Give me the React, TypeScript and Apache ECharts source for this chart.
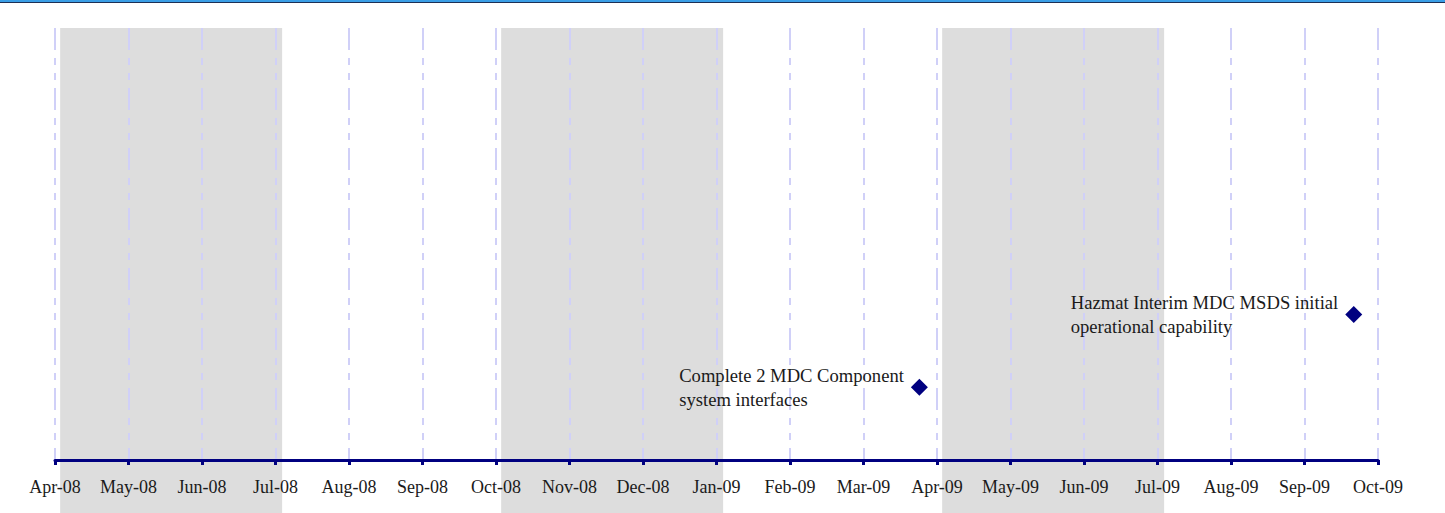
import React, { useEffect, useRef } from 'react';
import * as echarts from 'echarts';

const monthLabels = [
  'Apr-08', 'May-08', 'Jun-08', 'Jul-08', 'Aug-08', 'Sep-08', 'Oct-08', 'Nov-08', 'Dec-08',
  'Jan-09', 'Feb-09', 'Mar-09', 'Apr-09', 'May-09', 'Jun-09', 'Jul-09', 'Aug-09', 'Sep-09', 'Oct-09',
];

// shaded quarters (month index along the axis)
const bandStarts = [0.07, 6.07, 12.07];
const bandEnds = [3.09, 9.09, 15.09];

// milestones
const milestoneNames = [
  'Complete 2 MDC Component\nsystem interfaces',
  'Hazmat Interim MDC MSDS initial\noperational capability',
];
const milestoneMonths = [11.76, 17.67];
const milestoneHeights = [1.38, 2.76];

const Y_MAX = 8.2;
const FONT = 'Liberation Serif, Times New Roman, serif';
const NAVY = '#000080';

export default function App() {
  const ref = useRef<HTMLDivElement>(null);

  useEffect(() => {
    if (!ref.current) return;
    const chart = echarts.init(ref.current, null, { renderer: 'svg' });

    const xMax = monthLabels.length - 1;

    const gridLines = monthLabels.map((_, i) => [
      { coord: [i, Y_MAX] },
      { coord: [i, 0] },
    ]);

    const bands = bandStarts.map((s, i) => [{ xAxis: s }, { xAxis: bandEnds[i] }]);

    const points = milestoneNames.map((name, i) => ({
      name,
      value: [milestoneMonths[i], milestoneHeights[i]],
    }));

    chart.setOption({
      animation: false,
      backgroundColor: '#ffffff',
      grid: [
        { left: 55, right: 67, top: 28, bottom: 53, containLabel: false, outerBoundsMode: 'none' },
        { left: 55, right: 67, top: 28, bottom: 0, containLabel: false, outerBoundsMode: 'none' },
      ],
      xAxis: [
        {
          gridIndex: 0,
          type: 'value',
          min: 0,
          max: xMax,
          interval: 1,
          position: 'bottom',
          z: 10,
          axisLine: { onZero: false, lineStyle: { color: NAVY, width: 3 } },
          axisTick: { show: true, inside: false, length: 5, lineStyle: { color: NAVY, width: 3 } },
          axisLabel: {
            margin: 18,
            color: '#1a1a1a',
            fontSize: 18,
            fontFamily: FONT,
            formatter: (v: number) => monthLabels[Math.round(v)] ?? '',
          },
          splitLine: { show: false },
        },
        {
          gridIndex: 1,
          type: 'value',
          min: 0,
          max: xMax,
          show: false,
          splitLine: { show: false },
        },
      ],
      yAxis: [
        { gridIndex: 0, type: 'value', min: 0, max: Y_MAX, show: false, splitLine: { show: false } },
        { gridIndex: 1, type: 'value', min: 0, max: 1, show: false, splitLine: { show: false } },
      ],
      graphic: [
        { type: 'rect', left: 0, top: 0, shape: { width: 1445, height: 2 }, style: { fill: '#3a9ee6' }, z: 100 },
        { type: 'rect', left: 0, top: 2, shape: { width: 1445, height: 1 }, style: { fill: '#1c2f55' }, z: 100 },
      ],
      series: [
        {
          type: 'scatter',
          xAxisIndex: 1,
          yAxisIndex: 1,
          data: [],
          z: 1,
          silent: true,
          markArea: {
            silent: true,
            itemStyle: { color: '#dddddd', opacity: 1 },
            label: { show: false },
            data: bands,
          },
        },
        {
          type: 'scatter',
          xAxisIndex: 0,
          yAxisIndex: 0,
          data: [],
          z: 2,
          silent: true,
          markLine: {
            silent: true,
            symbol: 'none',
            label: { show: false },
            lineStyle: { color: '#d0d0f8', width: 2, opacity: 1, type: [22, 8, 7, 8, 7, 8] },
            data: gridLines,
          },
        },
        {
          type: 'scatter',
          xAxisIndex: 0,
          yAxisIndex: 0,
          z: 5,
          symbol: 'diamond',
          symbolSize: 17,
          itemStyle: { color: NAVY, opacity: 1 },
          data: points,
          label: {
            show: true,
            position: 'left',
            distance: 7,
            color: '#1a1a1a',
            fontFamily: FONT,
            fontSize: 18.6,
            lineHeight: 24,
            formatter: (p: any) =>
              String(p.name)
                .split('\n')
                .map((l: string) => `{t|${l}}`)
                .join('\n'),
            rich: {
              t: { fontSize: 18.6, lineHeight: 24, fontFamily: FONT, color: '#1a1a1a', align: 'left' },
            },
          },
        },
      ],
    });

    return () => chart.dispose();
  }, []);

  return (
    <div
      ref={ref}
      style={{ position: 'fixed', left: 0, top: 0, width: 1445, height: 513 }}
    />
  );
}
